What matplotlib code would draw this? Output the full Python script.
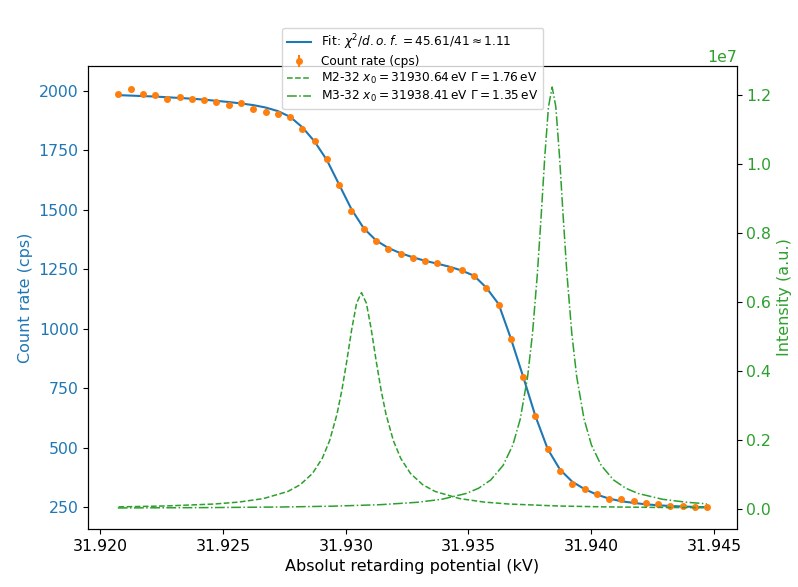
import matplotlib.pyplot as plt

# Measured count rate (retarding potential in kV, rate in cps)
volt = [31.92073, 31.92123, 31.92173, 31.92223, 31.92273, 31.92323, 31.92373, 31.92423, 31.92473, 31.92523,
        31.92573, 31.92623, 31.92673, 31.92723, 31.92773, 31.92823, 31.92873, 31.92923, 31.92973, 31.93023,
        31.93073, 31.93123, 31.93173, 31.93223, 31.93273, 31.93323, 31.93373, 31.93423, 31.93473, 31.93523,
        31.93573, 31.93623, 31.93673, 31.93723, 31.93773, 31.93823, 31.93873, 31.93923, 31.93973, 31.94023,
        31.94073, 31.94123, 31.94173, 31.94223, 31.94273, 31.94323, 31.94373, 31.94423, 31.94473]
rate = [1985, 2006, 1986, 1981, 1964, 1971, 1964, 1962, 1950, 1939,
        1947, 1924, 1912, 1902, 1887, 1839, 1790, 1713, 1603, 1496,
        1417, 1369, 1336, 1313, 1298, 1285, 1276, 1252, 1246, 1221,
        1169, 1101, 958, 798, 632, 493, 404, 349, 327, 306,
        285, 284, 274, 266, 263, 254, 254, 250, 250]
rate_err = [8.9, 9.0, 8.9, 8.9, 8.9, 8.9, 8.9, 8.9, 8.8, 8.8,
            8.8, 8.8, 8.7, 8.7, 8.7, 8.6, 8.5, 8.3, 8.0, 7.7,
            7.5, 7.4, 7.3, 7.2, 7.2, 7.2, 7.1, 7.1, 7.1, 7.0,
            6.8, 6.6, 6.2, 5.6, 5.0, 4.4, 4.0, 3.7, 3.6, 3.5,
            3.4, 3.4, 3.3, 3.3, 3.2, 3.2, 3.2, 3.2, 3.2]

# Fit curve read at the same potentials
fit = [1981, 1979, 1977, 1975, 1972, 1969, 1966, 1962, 1957, 1952,
       1946, 1939, 1929, 1914, 1890, 1846, 1786, 1708, 1605, 1502,
       1422, 1371, 1339, 1317, 1300, 1285, 1273, 1260, 1244, 1222,
       1172, 1103, 958, 798, 632, 494, 408, 357, 326, 303,
       286, 275, 268, 262, 258, 255, 253, 251, 250]

# Line intensities (units of 1e7)
m2_x = [31.92074, 31.92264, 31.92464, 31.92564, 31.92664, 31.92764, 31.92814, 31.92864, 31.92904,
        31.92934, 31.92964, 31.92984, 31.93004, 31.93024, 31.93044, 31.93064, 31.93084, 31.93104,
        31.93124, 31.93144, 31.93164, 31.93194, 31.93224, 31.93264, 31.93314, 31.93364, 31.93464,
        31.93564, 31.93664, 31.93864, 31.94064, 31.94264, 31.94470]
m2_y = [0.00491, 0.00749, 0.01318, 0.01881, 0.0289, 0.0496, 0.0690, 0.1015, 0.1454,
        0.1967, 0.2732, 0.3428, 0.4273, 0.5188, 0.5952, 0.626, 0.5952, 0.5188,
        0.4273, 0.3428, 0.2732, 0.1967, 0.1454, 0.1015, 0.0690, 0.0496, 0.0289,
        0.01881, 0.01318, 0.00749, 0.00481, 0.00335, 0.00244]

m3_x = [31.92071, 31.92441, 31.92741, 31.92941, 31.93141, 31.93291, 31.93391, 31.93491, 31.93541,
        31.93591, 31.93641, 31.93681, 31.93711, 31.93741, 31.93761, 31.93781, 31.93796, 31.93811,
        31.93826, 31.93841, 31.93856, 31.93871, 31.93886, 31.93901, 31.93921, 31.93941, 31.93971,
        31.94001, 31.94041, 31.94091, 31.94141, 31.94191, 31.94291, 31.94391, 31.94471]
m3_y = [0.001775, 0.002834, 0.004584, 0.006834, 0.01126, 0.01813, 0.02689, 0.04382, 0.0589,
        0.0830, 0.1250, 0.1846, 0.2595, 0.3825, 0.5081, 0.6827, 0.8460, 1.0205,
        1.1645, 1.222, 1.1645, 1.0205, 0.8460, 0.6827, 0.5081, 0.3825, 0.2595,
        0.1846, 0.1250, 0.0830, 0.0589, 0.04382, 0.02689, 0.01813, 0.01387]

fit_label = r"Fit: $\chi^2/d.o.f. = 45.61/41 \approx 1.11$"
m2_label = r"M2-32 $x_0 = 31930.64\,\mathrm{eV}$ $\Gamma = 1.76\,\mathrm{eV}$"
m3_label = r"M3-32 $x_0 = 31938.41\,\mathrm{eV}$ $\Gamma = 1.35\,\mathrm{eV}$"

fig = plt.figure(figsize=(7.98, 5.87), dpi=100)
ax = fig.add_axes([0.1107, 0.0988, 0.8125, 0.7888])
ax2 = ax.twinx()

ax.plot(volt, fit, color="tab:blue", label=fit_label)
ax.errorbar(volt, rate, yerr=rate_err, fmt="o", ms=4, color="tab:orange", label="Count rate (cps)")

ax2.plot(m2_x, [v * 1e7 for v in m2_y], "--", lw=1.1, color="tab:green", label=m2_label)
ax2.plot(m3_x, [v * 1e7 for v in m3_y], "-.", lw=1.1, color="tab:green", label=m3_label)

ax.set_xlabel("Absolut retarding potential (kV)", fontsize=11.5)
ax.set_ylabel("Count rate (cps)", color="tab:blue", fontsize=11.5)
ax2.set_ylabel("Intensity (a.u.)", color="tab:green", fontsize=11.5)
ax.tick_params(axis="x", labelsize=11.3)
ax.tick_params(axis="y", labelsize=11.3, labelcolor="tab:blue")
ax2.tick_params(axis="y", labelsize=11.3, labelcolor="tab:green")
ax2.yaxis.get_offset_text().set_color("tab:green")
ax2.yaxis.get_offset_text().set_fontsize(11.3)

h1, l1 = ax.get_legend_handles_labels()
h2, l2 = ax2.get_legend_handles_labels()
ax2.legend(h1 + h2, l1 + l2, loc="upper center", bbox_to_anchor=(0.5, 1.096),
           fontsize=8.7, labelspacing=0.25)

plt.savefig("out.png")
